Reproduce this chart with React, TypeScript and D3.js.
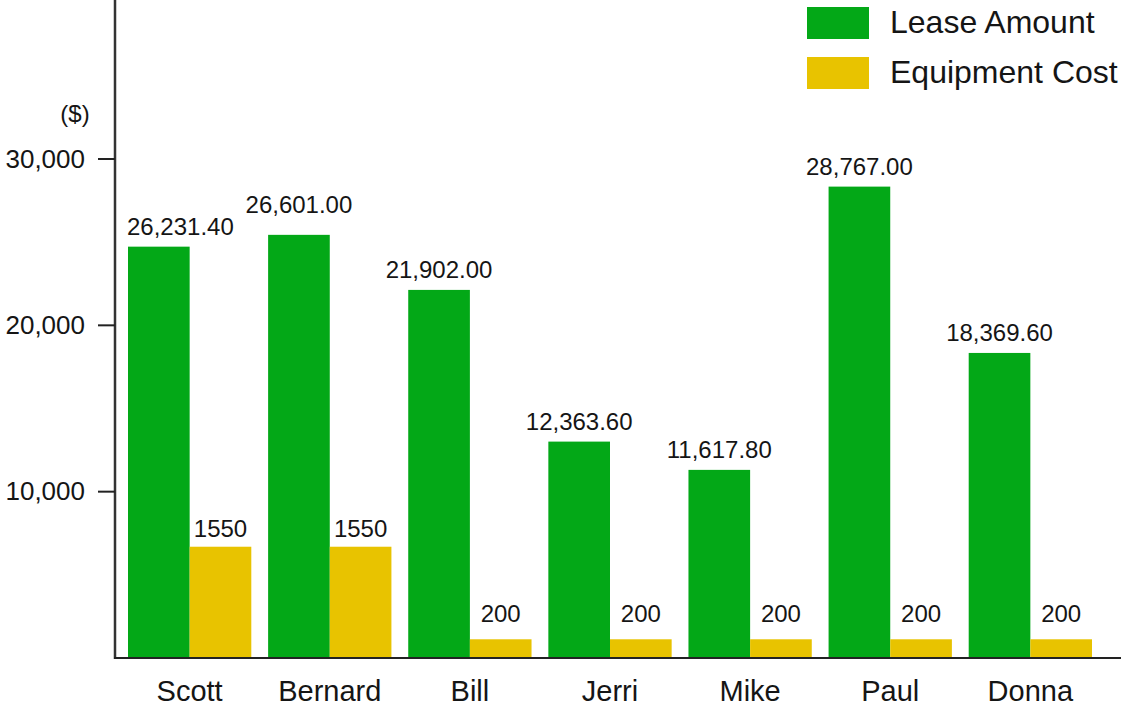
import React, { useEffect, useRef } from "react";
import * as d3 from "d3";

const people = ["Scott", "Bernard", "Bill", "Jerri", "Mike", "Paul", "Donna"];
// bar heights as drawn in the picture
const leaseBars = [24730, 25440, 22130, 13010, 11310, 28340, 18340];
const equipBars = [6690, 6690, 1125, 1125, 1125, 1125, 1125];
// printed value labels
const leaseLabels = ["26,231.40", "26,601.00", "21,902.00", "12,363.60", "11,617.80", "28,767.00", "18,369.60"];
const equipLabels = ["1550", "1550", "200", "200", "200", "200", "200"];
const yTicks = [10000, 20000, 30000];
const seriesNames = ["Lease Amount", "Equipment Cost"];
const colors = ["#03A817", "#E8C300"];

const W = 1121;
const H = 713;
const FONT = "'Liberation Sans', Arial, Helvetica, sans-serif";
const INK = "#151515";

export default function App() {
  const ref = useRef<SVGSVGElement>(null);

  useEffect(() => {
    const svg = d3.select(ref.current);
    svg.selectAll("*").remove();

    const axisX = 115;
    const y = d3.scaleLinear().domain([0, 30000]).range([658, 159]);
    const x0 = d3.scaleBand<string>().domain(people).range([128, 1092]).paddingInner(0.12).paddingOuter(0);
    const x1 = d3.scaleBand<string>().domain(["lease", "equip"]).range([0, x0.bandwidth()]).padding(0);

    const g = svg.append("g");

    people.forEach((p, i) => {
      const vals = [leaseBars[i], equipBars[i]];
      ["lease", "equip"].forEach((k, j) => {
        g.append("rect")
          .attr("x", x0(p)! + x1(k)!)
          .attr("y", y(vals[j]))
          .attr("width", x1.bandwidth())
          .attr("height", y(0) - y(vals[j]))
          .attr("fill", colors[j]);
      });
    });

    g.append("line").attr("x1", axisX).attr("x2", axisX).attr("y1", 0).attr("y2", y(0) + 1)
      .attr("stroke", "#333").attr("stroke-width", 2.5);
    g.append("line").attr("x1", axisX - 1).attr("x2", W).attr("y1", y(0)).attr("y2", y(0))
      .attr("stroke", "#222").attr("stroke-width", 2);

    yTicks.forEach((t) => {
      g.append("line").attr("x1", 98).attr("x2", axisX).attr("y1", y(t)).attr("y2", y(t))
        .attr("stroke", "#222").attr("stroke-width", 2);
      g.append("text").attr("x", 85).attr("y", y(t) + 8.5).attr("text-anchor", "end")
        .attr("font-family", FONT).attr("font-size", 26).attr("fill", INK)
        .text(d3.format(",")(t));
    });

    g.append("text").attr("x", 75).attr("y", 122).attr("text-anchor", "middle")
      .attr("font-family", FONT).attr("font-size", 24).attr("fill", INK).text("($)");

    people.forEach((p) => {
      g.append("text").attr("x", x0(p)! + x0.bandwidth() / 2).attr("y", 701)
        .attr("text-anchor", "middle").attr("font-family", FONT).attr("font-size", 29)
        .attr("fill", INK).text(p);
    });

    let prev: { right: number; top: number; bottom: number } | null = null;
    people.forEach((p, i) => {
      const cx = x0(p)! + x1("lease")! + x1.bandwidth() / 2;
      const t = g.append("text").attr("font-family", FONT).attr("font-size", 24)
        .attr("fill", INK).attr("text-anchor", "middle").text(leaseLabels[i]);
      const w = (t.node() as SVGTextElement).getComputedTextLength();
      const x = Math.max(cx, axisX + 12 + w / 2);
      let base = y(leaseBars[i]) - 12;
      if (prev && x - w / 2 - prev.right < 15 && base > prev.top && base - 17 < prev.bottom) {
        base = prev.top - 5;
      }
      t.attr("x", x).attr("y", base);
      prev = { right: x + w / 2, top: base - 17, bottom: base };

      const ex = x0(p)! + x1("equip")! + x1.bandwidth() / 2;
      const eb = Math.min(y(equipBars[i]) - 10, y(0) - 36);
      g.append("text").attr("x", ex).attr("y", eb).attr("text-anchor", "middle")
        .attr("font-family", FONT).attr("font-size", 24).attr("fill", INK).text(equipLabels[i]);
    });

    seriesNames.forEach((s, i) => {
      const ly = 7 + i * 50;
      g.append("rect").attr("x", 807).attr("y", ly).attr("width", 62).attr("height", 32).attr("fill", colors[i]);
      g.append("text").attr("x", 890).attr("y", ly + 26).attr("font-family", FONT).attr("font-size", 32)
        .attr("fill", INK).text(s);
    });
  }, []);

  return (
    <svg ref={ref} width={W} height={H} style={{ position: "absolute", left: 0, top: 0, background: "#fff" }} />
  );
}
